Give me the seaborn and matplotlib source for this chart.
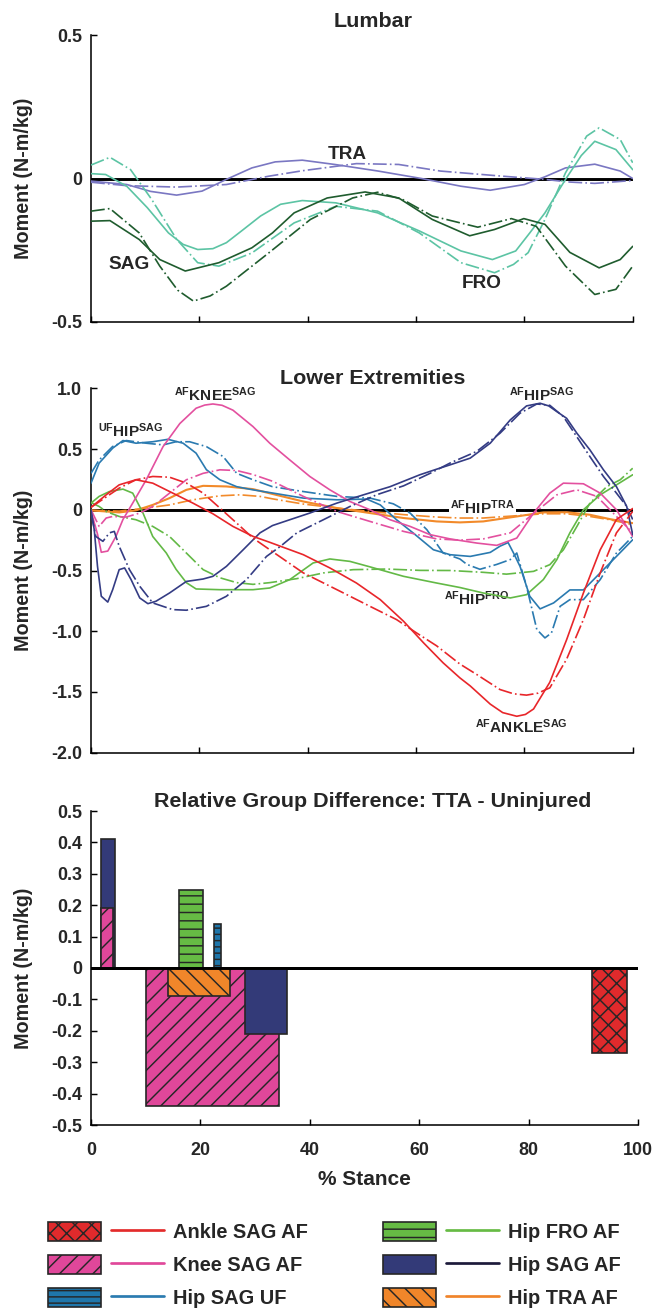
import matplotlib
matplotlib.use("Agg")
import numpy as np
import pandas as pd
import matplotlib.pyplot as plt
import seaborn as sns
from matplotlib.patches import Patch
from matplotlib.lines import Line2D
from matplotlib.legend_handler import HandlerTuple

# lumbar moments (% stance, N-m/kg), solid = TTA, dash-dot = uninjured
lumbar_tra_tta = [(0, -0.009), (6.6, -0.021), (11, -0.045), (15.8, -0.058), (20.5, -0.044), (25, -0.003),
                  (29.7, 0.037), (34, 0.058), (39, 0.064), (45, 0.049), (53, 0.026), (61, 0.0),
                  (68.3, -0.027), (73.7, -0.041), (80, -0.021), (83.8, 0.006), (87.6, 0.037), (93, 0.05),
                  (97.7, 0.026), (100, 0.0)]
lumbar_tra_un = [(0, -0.013), (6.6, -0.025), (15.8, -0.03), (25, -0.021), (32.8, 0.008), (39, 0.027),
                 (49, 0.052), (56.8, 0.049), (64.5, 0.026), (76, 0.008), (83.8, -0.003), (88, -0.012),
                 (93, -0.017), (100, -0.007)]
lumbar_fro_tta = [(0, 0.017), (2.7, 0.014), (6.6, -0.027), (10.4, -0.102), (14.3, -0.19), (17, -0.23),
                  (19.7, -0.248), (22.5, -0.245), (25, -0.224), (28, -0.18), (31.3, -0.131), (35, -0.09),
                  (39, -0.077), (45.2, -0.085), (52.9, -0.12), (60.6, -0.183), (68.3, -0.253), (74.1, -0.283),
                  (78.4, -0.253), (81, -0.19), (83.8, -0.12), (87.6, -0.003), (90.5, 0.08), (93, 0.13),
                  (96.9, 0.101), (100, 0.031)]
lumbar_fro_un = [(0, 0.047), (3.5, 0.074), (7.3, 0.031), (11.2, -0.073), (15.8, -0.212), (19.7, -0.294),
                 (23.6, -0.306), (29.7, -0.26), (37.5, -0.155), (45.2, -0.097), (52.9, -0.114), (60.6, -0.19),
                 (68.3, -0.294), (74.5, -0.329), (78, -0.3), (80.7, -0.259), (83.8, -0.143), (87.6, 0.02),
                 (91.5, 0.148), (93.8, 0.177), (97.7, 0.136), (100, 0.055)]
lumbar_sag_tta = [(0, -0.149), (3.5, -0.147), (8.9, -0.213), (12.7, -0.283), (17.4, -0.323), (23.6, -0.294),
                  (29.7, -0.242), (33.5, -0.19), (37.5, -0.12), (43.6, -0.068), (50.6, -0.047), (56.8, -0.068),
                  (63, -0.143), (69.9, -0.2), (74.5, -0.178), (79.9, -0.14), (83.8, -0.16), (88.4, -0.258),
                  (93.8, -0.312), (97.7, -0.283), (100, -0.237)]
lumbar_sag_un = [(0, -0.114), (3.5, -0.105), (8.9, -0.19), (12.7, -0.306), (16, -0.39), (18.9, -0.428),
                 (22, -0.41), (25, -0.376), (32.8, -0.26), (40.5, -0.143), (48.3, -0.068), (52.9, -0.048),
                 (57.5, -0.073), (63, -0.131), (71.4, -0.17), (77.6, -0.14), (82.2, -0.167), (87.6, -0.306),
                 (93, -0.405), (96.9, -0.387), (100, -0.306)]

# lower extremity moments
ankle_sag_tta = [(0, 0.02), (2.8, 0.123), (5.2, 0.205), (8.3, 0.247), (11.4, 0.219), (15.1, 0.137),
                 (18.8, 0.055), (22.5, -0.033), (26.2, -0.137), (29.9, -0.219), (33, -0.268), (39.2, -0.37),
                 (44.1, -0.479), (49, -0.603), (53.4, -0.74), (57.7, -0.918), (61.4, -1.096), (65, -1.26),
                 (68.1, -1.384), (70, -1.45), (73.7, -1.6), (76, -1.67), (78.6, -1.7), (80.2, -1.685),
                 (81.7, -1.64), (84.7, -1.42), (87.8, -1.07), (90.9, -0.685), (94, -0.33), (97, -0.08),
                 (100, 0.01)]
ankle_sag_un = [(0, 0.02), (5.2, 0.178), (8.3, 0.247), (11.4, 0.274), (14.5, 0.268), (17.6, 0.22),
                (20.7, 0.137), (23.8, 0.014), (26.9, -0.11), (29.9, -0.233), (33, -0.329), (39.2, -0.52),
                (45.4, -0.658), (51.5, -0.795), (56.4, -0.904), (60.1, -1.014), (63.8, -1.12), (68.1, -1.27),
                (71.2, -1.356), (75.5, -1.48), (78, -1.515), (80.4, -1.526), (82.5, -1.51), (84.7, -1.466),
                (87.8, -1.23), (90.9, -0.904), (94, -0.52), (97, -0.19), (100, -0.014)]
knee_sag_tta = [(0, -0.01), (1.2, -0.2), (1.9, -0.35), (3.1, -0.34), (4.6, -0.22), (5.9, -0.08), (7.7, 0.055),
                (10.2, 0.247), (13.3, 0.52), (16.4, 0.71), (19.4, 0.836), (21, 0.862), (22.5, 0.871),
                (24.2, 0.86), (26.2, 0.82), (29.9, 0.685), (33, 0.548), (36.7, 0.41), (40.4, 0.274),
                (44.1, 0.164), (47.8, 0.068), (51.5, 0.0), (55.2, -0.082), (58.9, -0.137), (62.6, -0.205),
                (66.3, -0.24), (71.2, -0.274), (74.9, -0.293), (78.6, -0.233), (81.7, -0.027), (84.7, 0.137),
                (87.2, 0.219), (90.9, 0.214), (94, 0.137), (97, 0.0), (100, -0.22)]
knee_sag_un = [(0, 0.0), (1.5, -0.137), (2.8, -0.068), (4, -0.055), (6.5, -0.06), (9, -0.027), (11.4, 0.027),
               (14.5, 0.137), (17.6, 0.247), (20.7, 0.3), (23.8, 0.329), (26.9, 0.323), (29.9, 0.29),
               (33.5, 0.235), (39.2, 0.11), (45.4, -0.014), (51.5, -0.096), (57.7, -0.178), (63.8, -0.24),
               (68.1, -0.25), (72.4, -0.24), (77.4, -0.19), (81.7, -0.03), (86, 0.123), (89.7, 0.164),
               (93.4, 0.11), (97, -0.055), (100, -0.19)]
hip_sag_uf_tta = [(0, 0.219), (1.5, 0.384), (4, 0.507), (5.9, 0.57), (8.3, 0.548), (11.4, 0.56), (14.2, 0.58),
                  (17, 0.548), (19.4, 0.466), (21.3, 0.33), (23.8, 0.247), (26.9, 0.19), (29.9, 0.164),
                  (33.5, 0.138), (39.2, 0.096), (45.4, 0.082), (50.9, 0.088), (53.4, 0.04), (56.4, -0.082),
                  (59.5, -0.192), (63.2, -0.329), (66.3, -0.37), (70, -0.384), (73.7, -0.351), (75.5, -0.3),
                  (77, -0.27), (78, -0.356), (79.2, -0.466), (81, -0.712), (82.9, -0.816), (85.4, -0.767),
                  (88.4, -0.66), (90.9, -0.66), (94, -0.52), (97, -0.384), (100, -0.247)]
hip_sag_uf_un = [(0, 0.3), (1.5, 0.41), (4, 0.521), (6.5, 0.57), (10.2, 0.548), (13.3, 0.534), (15.7, 0.56),
                 (18.2, 0.56), (21.3, 0.52), (24.4, 0.438), (26.9, 0.3), (29.9, 0.247), (33.5, 0.19),
                 (39.2, 0.15), (45.4, 0.11), (51.5, 0.096), (55.8, 0.049), (58.9, -0.027), (62, -0.164),
                 (65, -0.356), (68.1, -0.405), (69.4, -0.45), (71.8, -0.49), (74.9, -0.45), (77.4, -0.41),
                 (78.6, -0.356), (80.4, -0.63), (82.3, -0.986), (83.8, -1.055), (85, -1.014), (86.6, -0.795),
                 (88.4, -0.74), (90.9, -0.74), (94, -0.575), (97, -0.356), (100, -0.219)]
hip_fro_tta = [(0, 0.055), (1.5, 0.11), (3.4, 0.15), (5.9, 0.17), (7.7, 0.137), (9.6, -0.027), (11.4, -0.22),
               (13.9, -0.356), (15.7, -0.49), (17.6, -0.6), (19.4, -0.652), (23.8, -0.658), (29.9, -0.658),
               (33, -0.644), (36.7, -0.575), (41, -0.438), (44.1, -0.405), (47.8, -0.425), (51.5, -0.47),
               (57.7, -0.548), (63.8, -0.603), (68.1, -0.64), (72.4, -0.685), (77.4, -0.726), (80.4, -0.699),
               (83.5, -0.575), (86, -0.41), (88.4, -0.19), (90.9, 0.0), (94, 0.123), (97, 0.205), (100, 0.288)]
hip_fro_un = [(0, 0.06), (1.5, 0.027), (2.8, -0.014), (5.2, -0.055), (8.3, -0.082), (11.4, -0.137),
              (14.5, -0.22), (17.6, -0.356), (20.7, -0.493), (23.8, -0.56), (26.9, -0.6), (29.9, -0.614),
              (33, -0.6), (38, -0.567), (42.9, -0.52), (48.4, -0.493), (54.6, -0.488), (60.7, -0.499),
              (66.3, -0.5), (72.4, -0.515), (76.7, -0.53), (81.7, -0.507), (84.7, -0.452), (87.2, -0.33),
              (89.7, -0.137), (92.1, 0.055), (95.2, 0.19), (97.7, 0.247), (100, 0.342)]
hip_sag_tta = [(0, 0.0), (0.6, -0.164), (1.2, -0.466), (1.9, -0.712), (3.1, -0.76), (4, -0.658), (5.2, -0.493),
               (6.2, -0.479), (7.4, -0.575), (9, -0.726), (10.5, -0.773), (12, -0.753), (14.5, -0.685),
               (17.6, -0.59), (20.7, -0.57), (22.5, -0.548), (25, -0.466), (28.1, -0.329), (31.2, -0.19),
               (33.5, -0.13), (36.7, -0.082), (40.4, -0.027), (45.4, 0.055), (50.3, 0.123), (55.2, 0.19),
               (60.7, 0.288), (63.8, 0.334), (66.3, 0.37), (70, 0.425), (73.7, 0.548), (77.4, 0.74),
               (80.4, 0.855), (82.9, 0.877), (84.5, 0.855), (86, 0.808), (87.8, 0.753), (89.7, 0.63),
               (92.1, 0.493), (94.6, 0.329), (97, 0.19), (98.9, 0.027), (100, -0.205)]
hip_sag_un = [(0, -0.027), (0.9, -0.22), (2.2, -0.26), (3.4, -0.19), (4.3, -0.178), (5.2, -0.3), (7.1, -0.493),
              (9, -0.63), (11.4, -0.767), (15.1, -0.822), (17.6, -0.827), (21.3, -0.795), (25, -0.712),
              (28.7, -0.575), (32.4, -0.384), (35, -0.3), (38, -0.19), (42.9, -0.082), (47.8, 0.027),
              (52.7, 0.123), (57.7, 0.197), (62.6, 0.3), (66.3, 0.385), (71.2, 0.48), (75.5, 0.63),
              (79.2, 0.795), (82.3, 0.871), (84.7, 0.86), (87.2, 0.767), (89.7, 0.6), (92.1, 0.438),
              (94.6, 0.274), (97, 0.137), (98.9, 0.027), (100, -0.08)]
hip_tra_tta = [(0, -0.005), (5.2, -0.022), (8.3, -0.005), (11.4, 0.04), (14.5, 0.096), (17.6, 0.164),
               (20.7, 0.197), (25, 0.192), (29.9, 0.17), (33.5, 0.13), (39.2, 0.068), (45.4, 0.014),
               (51.5, -0.027), (57.7, -0.068), (63.8, -0.096), (68.1, -0.104), (72.4, -0.096), (78.6, -0.055),
               (83.5, -0.022), (87.8, -0.02), (92.1, -0.041), (95.8, -0.077), (100, -0.11)]
hip_tra_un = [(0, -0.005), (5.2, -0.011), (10.2, 0.014), (14.5, 0.04), (18.8, 0.082), (23.8, 0.115),
              (27.5, 0.123), (31.2, 0.11), (33.5, 0.09), (39.2, 0.047), (45.4, 0.014), (51.5, -0.014),
              (57.7, -0.04), (63.8, -0.06), (68.1, -0.068), (72.4, -0.068), (78.6, -0.049), (83.5, -0.033),
              (87.8, -0.033), (92.1, -0.055), (95.8, -0.082), (100, -0.123)]

# relative group difference bars: start, end (% stance), value
bar_group = ["Hip SAG AF", "Knee SAG AF", "Hip FRO AF", "Hip SAG UF", "Knee SAG AF", "Hip TRA AF",
             "Hip SAG AF", "Ankle SAG AF"]
bar_start = [1.8, 1.8, 16.1, 22.5, 10.1, 14.1, 28.1, 91.6]
bar_end = [4.4, 4.1, 20.4, 23.8, 34.4, 25.5, 35.9, 97.9]
bar_value = [0.41, 0.19, 0.25, 0.14, -0.44, -0.09, -0.21, -0.27]

stance_ticks = [0, 20, 40, 60, 80, 100]
lumbar_yticks = [0.5, 0, -0.5]
lumbar_ylabels = ["0.5", "0", "-0.5"]
lower_yticks = [1.0, 0.5, 0, -0.5, -1.0, -1.5, -2.0]
lower_ylabels = ["1.0", "0.5", "0", "-0.5", "-1.0", "-1.5", "-2.0"]
diff_yticks = [0.5, 0.4, 0.3, 0.2, 0.1, 0, -0.1, -0.2, -0.3, -0.4, -0.5]
diff_ylabels = ["0.5", "0.4", "0.3", "0.2", "0.1", "0", "-0.1", "-0.2", "-0.3", "-0.4", "-0.5"]

legend_groups = ["Ankle SAG AF", "Knee SAG AF", "Hip SAG UF", "Hip FRO AF", "Hip SAG AF", "Hip TRA AF"]

fill = {"Ankle SAG AF": "#e02a2c", "Knee SAG AF": "#e0479a", "Hip SAG UF": "#1f76aa",
        "Hip FRO AF": "#66bb44", "Hip SAG AF": "#333a78", "Hip TRA AF": "#f0862a"}
hatch = {"Ankle SAG AF": "xxx", "Knee SAG AF": "///", "Hip SAG UF": "----",
         "Hip FRO AF": "---", "Hip SAG AF": "", "Hip TRA AF": "\\\\\\"}
legend_line = {"Ankle SAG AF": "#e32b2b", "Knee SAG AF": "#e0489a", "Hip SAG UF": "#2b7bb0",
               "Hip FRO AF": "#66bb44", "Hip SAG AF": "#1c1a3a", "Hip TRA AF": "#f0842a"}

sns.set_theme(style="ticks")
plt.rcParams["font.family"] = ["Liberation Sans", "DejaVu Sans"]
plt.rcParams["font.weight"] = "bold"
plt.rcParams["axes.titleweight"] = "bold"
plt.rcParams["axes.labelweight"] = "bold"
plt.rcParams["mathtext.fontset"] = "custom"
plt.rcParams["mathtext.rm"] = "Liberation Sans:bold"
plt.rcParams["mathtext.bf"] = "Liberation Sans:bold"
plt.rcParams["mathtext.default"] = "bf"
plt.rcParams["axes.unicode_minus"] = False
plt.rcParams["hatch.linewidth"] = 0.7
plt.rcParams["hatch.color"] = "#262626"

W, H = 655, 1312
fig = plt.figure(figsize=(W / 150, H / 150), dpi=150)
ax_top = fig.add_axes([91 / W, 1 - 321.7 / H, 541.7 / W, 286.4 / H])
ax_mid = fig.add_axes([91 / W, 1 - 752.7 / H, 541.7 / W, 364.4 / H])
ax_bot = fig.add_axes([91 / W, 1 - 1125 / H, 547 / W, 314 / H])

dashdot = (0, (8.3, 1.9, 1.0, 1.9))


def draw_curve(ax, pts, color, dashed=False, lw=0.8):
    df = pd.DataFrame(pts, columns=["stance", "moment"])
    sns.lineplot(data=df, x="stance", y="moment", ax=ax, color=color, lw=lw,
                 linestyle=dashdot if dashed else "-", sort=False, estimator=None, zorder=4)


def style_axis(ax, yticks, ylabels, title, title_pad, title_x=0.5206):
    ax.set_xlim(0, 100)
    ax.set_ylim(min(yticks), max(yticks))
    ax.set_xticks(stance_ticks)
    ax.set_yticks(yticks)
    ax.set_yticklabels(ylabels)
    ax.tick_params(direction="in", length=2.9, width=0.7, color="black", labelsize=8.6, pad=4.3)
    for side in ["top", "right"]:
        ax.spines[side].set_visible(False)
    for side in ["left", "bottom"]:
        ax.spines[side].set_linewidth(0.75)
        ax.spines[side].set_color("black")
    ax.set_title(title, fontsize=10.3, pad=title_pad, x=title_x)
    ax.set_ylabel("Moment (N-m/kg)", fontsize=9.5)
    ax.yaxis.set_label_coords(-(91 - 33) / (ax.get_position().width * W), 0.5)
    ax.axhline(0, color="black", lw=1.4, zorder=2)


# Lumbar
lumbar_colors = {"tra": "#7a77c2", "fro": "#5cc4a4", "sag": "#1f5c2e"}
draw_curve(ax_top, lumbar_tra_tta, lumbar_colors["tra"])
draw_curve(ax_top, lumbar_tra_un, lumbar_colors["tra"], dashed=True)
draw_curve(ax_top, lumbar_fro_tta, lumbar_colors["fro"])
draw_curve(ax_top, lumbar_fro_un, lumbar_colors["fro"], dashed=True)
draw_curve(ax_top, lumbar_sag_tta, lumbar_colors["sag"])
draw_curve(ax_top, lumbar_sag_un, lumbar_colors["sag"], dashed=True)
style_axis(ax_top, lumbar_yticks, lumbar_ylabels, "Lumbar", 3.9)
ax_top.set_xticklabels([])
ax_top.set_xlabel("")
ax_top.text(47.4, 0.084, "TRA", fontsize=9.1, ha="center", va="center")
ax_top.text(7.1, -0.30, "SAG", fontsize=9.1, ha="center", va="center")
ax_top.text(72.1, -0.365, "FRO", fontsize=9.1, ha="center", va="center")

# Lower extremities
curve_colors = {"ankle": "#e8262a", "knee": "#e3509f", "uf": "#2a7ab0", "fro": "#63b946",
                "hip": "#343c84", "tra": "#f28a2a"}
draw_curve(ax_mid, hip_tra_tta, curve_colors["tra"], lw=1.0)
draw_curve(ax_mid, hip_tra_un, curve_colors["tra"], dashed=True)
draw_curve(ax_mid, hip_fro_tta, curve_colors["fro"])
draw_curve(ax_mid, hip_fro_un, curve_colors["fro"], dashed=True)
draw_curve(ax_mid, hip_sag_uf_tta, curve_colors["uf"])
draw_curve(ax_mid, hip_sag_uf_un, curve_colors["uf"], dashed=True)
draw_curve(ax_mid, knee_sag_tta, curve_colors["knee"])
draw_curve(ax_mid, knee_sag_un, curve_colors["knee"], dashed=True)
draw_curve(ax_mid, hip_sag_tta, curve_colors["hip"])
draw_curve(ax_mid, hip_sag_un, curve_colors["hip"], dashed=True)
draw_curve(ax_mid, ankle_sag_tta, curve_colors["ankle"])
draw_curve(ax_mid, ankle_sag_un, curve_colors["ankle"], dashed=True)
style_axis(ax_mid, lower_yticks, lower_ylabels, "Lower Extremities", 1.6)
ax_mid.set_xticklabels([])
ax_mid.set_xlabel("")
lab = dict(fontsize=7.4, va="baseline", ha="left")
ax_mid.text(1.24, 0.597, "$^{UF}$HIP$^{SAG}$", **lab)
ax_mid.text(15.4, 0.898, "$^{AF}$KNEE$^{SAG}$", **lab)
ax_mid.text(77.2, 0.898, "$^{AF}$HIP$^{SAG}$", **lab)
ax_mid.text(66.3, -0.033, "$^{AF}$HIP$^{TRA}$", zorder=3,
            bbox=dict(facecolor="white", edgecolor="none", pad=0.5), **lab)
ax_mid.text(65.1, -0.78, "$^{AF}$HIP$^{FRO}$", **lab)
ax_mid.text(70.9, -1.836, "$^{AF}$ANKLE$^{SAG}$", **lab)

# Relative group difference
for g, s, e, v in zip(bar_group, bar_start, bar_end, bar_value):
    ax_bot.bar(s, v, width=e - s, align="edge", color=fill[g], edgecolor="#262626",
               hatch=hatch[g], lw=0.8, zorder=3)
style_axis(ax_bot, diff_yticks, diff_ylabels, "Relative Group Difference: TTA - Uninjured", 2.0,
           title_x=0.5155)
ax_bot.axhline(0, color="black", lw=1.4, zorder=5)
ax_bot.tick_params(axis="x", pad=8)
ax_bot.set_xlabel("% Stance", fontsize=10, labelpad=5.5)

handles = [(Patch(facecolor=fill[g], edgecolor="#262626", hatch=hatch[g], lw=0.8),
            Line2D([], [], color=legend_line[g], lw=1.3)) for g in legend_groups]
fig.legend(handles, legend_groups, loc="upper left", bbox_to_anchor=(48 / W, 1 - 1222 / H), ncol=2,
           frameon=False, fontsize=9.6, handler_map={tuple: HandlerTuple(ndivide=None, pad=0.5)},
           handlelength=5.8, handleheight=1.05, handletextpad=0.45, columnspacing=3.75,
           labelspacing=0.65, borderpad=0, borderaxespad=0)

fig.savefig("out.png", dpi=150)
